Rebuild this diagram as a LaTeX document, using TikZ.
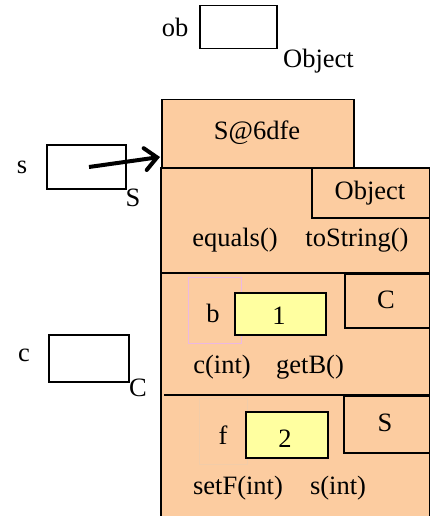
\documentclass[tikz,border=0pt]{standalone}
\usepackage{fontspec}
\setmainfont{Liberation Serif}
\usetikzlibrary{arrows.meta}
\definecolor{peach}{RGB}{252,204,160}
\definecolor{lyellow}{RGB}{255,255,160}
\definecolor{lpink}{RGB}{236,184,226}
\definecolor{faintf}{RGB}{242,204,168}
\begin{document}
\begin{tikzpicture}[x=1pt,y=-1pt,
  every node/.style={font=\fontsize{26.5}{30}\selectfont, inner sep=0pt},
  varbox/.style={draw=black, line width=1.5pt, fill=white, anchor=north west},
  pbox/.style={draw=black, line width=1.5pt, fill=peach, anchor=north west},
  ybox/.style={draw=black, line width=1.5pt, fill=lyellow, anchor=north west},
  ghost/.style={line width=1pt, anchor=north west},
  lbl/.style={anchor=center}]
\useasboundingbox (0,0) rectangle (430,516);
% variables
\node[lbl] (obl) at (175,27) {ob};
\node[varbox, minimum width=77pt, minimum height=43pt] (obbox) at (199,5) {};
\node[anchor=west] (obt) at (283,61) {Object};
\node[lbl] (sl) at (22,167) {s};
\node[varbox, minimum width=79pt, minimum height=44pt] (sbox) at (46,144) {};
\node[lbl] (st) at (133,198) {S};
\node[lbl] (cl) at (24,355) {c};
\node[varbox, minimum width=80pt, minimum height=47pt] (cbox) at (48,334) {};
\node[lbl] (ct) at (138,388) {C};
% object
\node[pbox, minimum width=192pt, minimum height=68pt] (head) at (161,99) {};
\node[lbl] (headt) at (257,133) {S@6dfe};
\node[pbox, minimum width=269pt, minimum height=380pt] (body) at (160,167) {};
\coordinate (d1a) at (162,273); \coordinate (d1b) at (429,273);
\coordinate (d2a) at (164,395); \coordinate (d2b) at (429,395);
\draw[line width=1.5pt] (d1a) -- (d1b);
\draw[line width=1.5pt] (d2a) -- (d2b);
% Object partition
\node[pbox, minimum width=118pt, minimum height=50pt] (objp) at (311,167) {};
\node[lbl] (objt) at (370,193) {Object};
\node[lbl] (eq) at (235,240) {equals()};
\node[lbl] (ts) at (357,240) {toString()};
% C partition
\node[pbox, minimum width=85pt, minimum height=54pt] (cp) at (344,273) {};
\node[lbl] (cpt) at (386,300) {C};
\node[ghost, draw=lpink, minimum width=53pt, minimum height=66pt] (bsq) at (188,277) {};
\node[lbl] (bl) at (213,313) {b};
\node[ybox, minimum width=91pt, minimum height=42pt] (bbox) at (234,292) {};
\node[lbl] (bv) at (279,316) {1};
\node[lbl] (cint) at (222,367) {c(int)};
\node[lbl] (getb) at (310,367) {getB()};
% S partition
\node[pbox, minimum width=86pt, minimum height=57pt] (sp) at (343,395) {};
\node[lbl] (spt) at (385,423) {S};
\node[ghost, draw=faintf, minimum width=48pt, minimum height=66pt] (fsq) at (199,398) {};
\node[lbl] (fl) at (223,435) {f};
\node[ybox, minimum width=82pt, minimum height=46pt] (fbox) at (245,411) {};
\node[lbl] (fv) at (285,439) {2};
\node[lbl] (setf) at (238,488) {setF(int)};
\node[lbl] (sint) at (338,488) {s(int)};
% arrow
\coordinate (tip) at (160,157);
\coordinate (tail) at (89,167);
\draw[line width=4pt, -{Straight Barb[length=12pt, width=22pt, line cap=round]}] (tail) -- (tip);
\end{tikzpicture}
\end{document}
